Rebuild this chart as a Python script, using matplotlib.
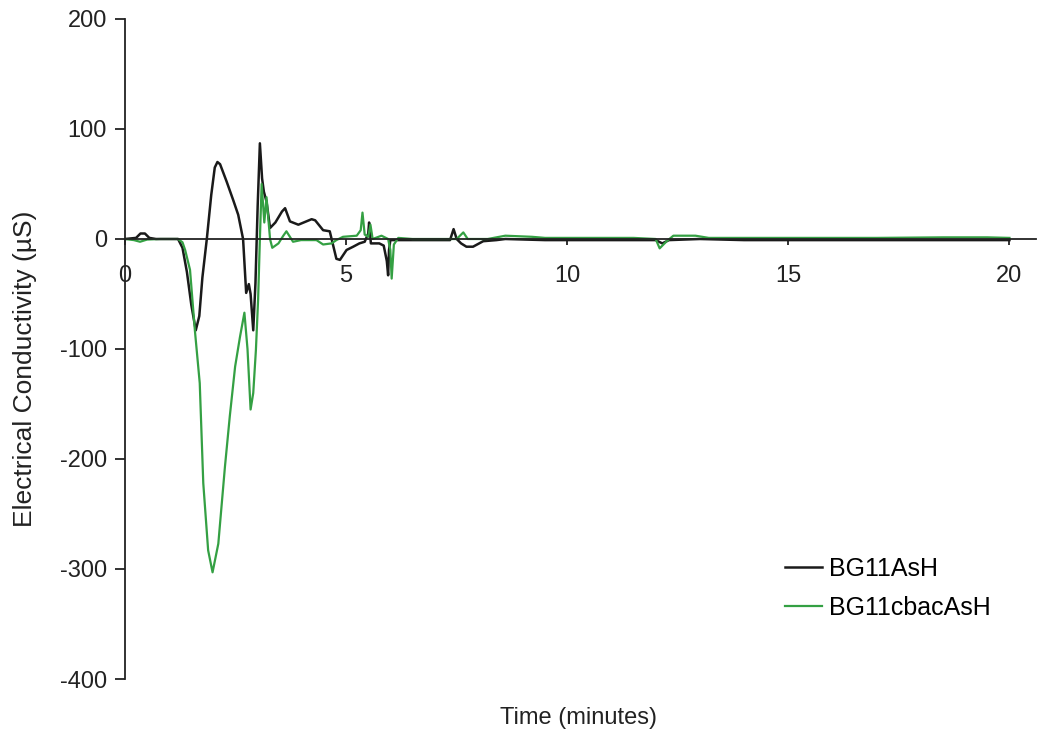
import matplotlib
matplotlib.use("Agg")
import matplotlib.pyplot as plt

# ---- data ----
t_black = [0, 0.25, 0.35, 0.45, 0.55, 0.7, 1.0, 1.2, 1.3, 1.4, 1.5, 1.6, 1.68, 1.75, 1.85,
           1.95, 2.03, 2.09, 2.15, 2.3, 2.45, 2.56, 2.62, 2.67, 2.74, 2.8, 2.84, 2.90, 2.95,
           3.0, 3.05, 3.1, 3.14, 3.2, 3.28, 3.4, 3.55, 3.62, 3.73, 3.92, 4.1, 4.22, 4.3,
           4.48, 4.63, 4.78, 4.86, 5.01, 5.16, 5.3, 5.42, 5.5, 5.52, 5.56, 5.75, 5.85, 5.92,
           5.95, 5.97, 6.0, 6.5, 7.0, 7.35, 7.43, 7.5, 7.6, 7.72, 7.87, 8.1, 8.4, 8.6, 9.5,
           10.5, 11.5, 12.0, 12.15, 12.3, 13, 14, 15, 16, 17, 18, 19, 20]
v_black = [0, 1, 5, 5, 1, 0, 0, 0, -8, -30, -60, -83, -70, -35, 0,
           40, 65, 70, 68, 52, 35, 22, 10, 0, -49, -41, -50, -83, -40,
           30, 87, 55, 43, 34, 10, 15, 25, 28, 16, 13, 16, 18, 17,
           8, 7, -18, -19, -10, -7, -4, -2.5, 5, 15, -4, -4, -6, -20,
           -33, -10, -1, -1, -1, -1, 9, 0, -4, -7, -7, -2, -1, 0, -1,
           -1, -1, -1, -4, -1, 0, -1, -1, -1, -1, -1, -1, -1]

t_green = [0, 0.2, 0.34, 0.5, 0.8, 1.2, 1.3, 1.36, 1.47, 1.58, 1.69, 1.77, 1.88, 1.98,
           2.11, 2.26, 2.37, 2.49, 2.6, 2.7, 2.77, 2.84, 2.9, 2.96, 3.01, 3.05, 3.09,
           3.15, 3.2, 3.28, 3.33, 3.47, 3.58, 3.65, 3.8, 3.98, 4.33, 4.48, 4.67, 4.78,
           4.93, 5.24, 5.33, 5.37, 5.42, 5.5, 5.55, 5.6, 5.8, 5.95, 6.0, 6.03, 6.08,
           6.18, 6.5, 7.5, 7.6, 7.65, 7.75, 8.2, 8.6, 9.2, 9.5, 10.5, 11.5, 12.0, 12.09,
           12.25, 12.4, 12.9, 13.2, 15, 17, 18.5, 19.5, 20]
v_green = [0, -1, -2.5, -0.5, 0, 0, -3, -10, -28, -83, -131, -222, -283, -303,
           -277, -207, -161, -116, -89, -67, -100, -155, -140, -101, -55, 0, 50,
           15, 38, 0, -8, -4, 3, 7, -2.5, -1, -1, -5, -4, -1,
           2, 3, 8, 24, 4, 2, 13, 0, 3, 0, -10, -36, -5,
           1, 0, 0, 4, 6, 0, 0, 3, 2, 1, 1, 1, 0, -8.5,
           -2, 3, 3, 1, 1, 1, 1.5, 1.5, 1]

series_names = ["BG11AsH", "BG11cbacAsH"]
y_ticks = [-400, -300, -200, -100, 0, 100, 200]
x_ticks = [0, 5, 10, 15, 20]

plt.rcParams['font.family'] = ['Liberation Sans', 'DejaVu Sans']

fig = plt.figure(figsize=(10.44, 7.38), dpi=100)
ax = fig.add_axes([125/1044, 1 - 679/738, (1036 - 125)/1044, (679 - 19)/738])

ax.plot(t_black, v_black, color='#1a1a1a', lw=1.8, label=series_names[0])
ax.plot(t_green, v_green, color='#34a043', lw=1.6, label=series_names[1])

ax.set_xlim(0, 20.6)
ax.set_ylim(-400, 200)
ax.spines['top'].set_visible(False)
ax.spines['right'].set_visible(False)
ax.spines['bottom'].set_position(('data', 0))
for s in ('left', 'bottom'):
    ax.spines[s].set_color('#222222')
    ax.spines[s].set_linewidth(1.3)

ax.set_yticks(y_ticks)
ax.set_yticklabels([str(v) for v in y_ticks])
ax.set_xticks(x_ticks)
ax.set_xticklabels([str(v) for v in x_ticks])
ax.tick_params(axis='y', direction='out', length=7, width=1.3, pad=6, labelsize=17, colors='#222222')
ax.tick_params(axis='x', direction='out', length=4, width=1.3, pad=15, labelsize=17, colors='#222222')

ax.set_ylabel('Electrical Conductivity (µS)', fontsize=19, color='#222222')
ax.yaxis.set_label_coords(-0.097, 0.47)
fig.text(578/1044, 1 - 718/738, 'Time (minutes)', ha='center', va='center', fontsize=17, color='#222222')

leg = ax.legend(loc='upper left', bbox_to_anchor=(0.714, 0.20), frameon=False, fontsize=18,
                handlelength=1.45, handletextpad=0.3, labelspacing=0.6, borderaxespad=0)

fig.savefig('out.png', dpi=100)
